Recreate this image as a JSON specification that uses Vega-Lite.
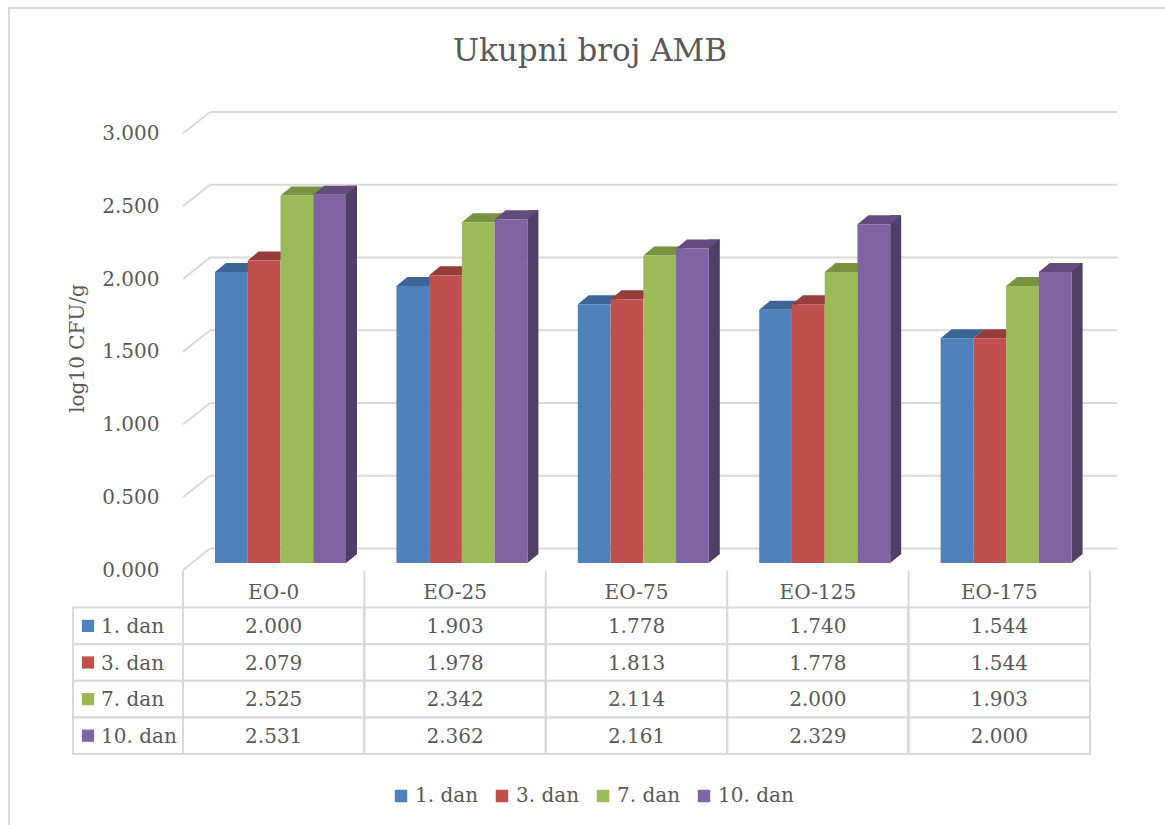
{
  "$schema": "https://vega.github.io/schema/vega-lite/v6.json",
  "width": 1156,
  "height": 817,
  "autosize": {"type": "none"},
  "padding": {"left": 9, "top": 8, "right": 0, "bottom": 0},
  "title": {"text": "Ukupni broj AMB", "font": "DejaVu Serif", "fontSize": 31, "fontWeight": "normal", "color": "#595959", "anchor": "middle", "frame": "group", "offset": -84, "baseline": "alphabetic", "dx": 3},
  "datasets": {
    "amb": [
      {"cat": "EO-0", "series": "1. dan", "value": 2.000},
      {"cat": "EO-0", "series": "3. dan", "value": 2.079},
      {"cat": "EO-0", "series": "7. dan", "value": 2.525},
      {"cat": "EO-0", "series": "10. dan", "value": 2.531},
      {"cat": "EO-25", "series": "1. dan", "value": 1.903},
      {"cat": "EO-25", "series": "3. dan", "value": 1.978},
      {"cat": "EO-25", "series": "7. dan", "value": 2.342},
      {"cat": "EO-25", "series": "10. dan", "value": 2.362},
      {"cat": "EO-75", "series": "1. dan", "value": 1.778},
      {"cat": "EO-75", "series": "3. dan", "value": 1.813},
      {"cat": "EO-75", "series": "7. dan", "value": 2.114},
      {"cat": "EO-75", "series": "10. dan", "value": 2.161},
      {"cat": "EO-125", "series": "1. dan", "value": 1.740},
      {"cat": "EO-125", "series": "3. dan", "value": 1.778},
      {"cat": "EO-125", "series": "7. dan", "value": 2.000},
      {"cat": "EO-125", "series": "10. dan", "value": 2.329},
      {"cat": "EO-175", "series": "1. dan", "value": 1.544},
      {"cat": "EO-175", "series": "3. dan", "value": 1.544},
      {"cat": "EO-175", "series": "7. dan", "value": 1.903},
      {"cat": "EO-175", "series": "10. dan", "value": 2.000}
    ],
    "ticks": [{"v": 0}, {"v": 0.5}, {"v": 1}, {"v": 1.5}, {"v": 2}, {"v": 2.5}, {"v": 3}]
  },
  "config": {
    "font": "DejaVu Serif",
    "view": {"stroke": "#d9d9d9", "strokeWidth": 2, "strokeDash": [1156, 1973, 817, 10]},
    "axis": {"labelColor": "#595959", "labelFontSize": 20, "labelFont": "DejaVu Serif", "titleColor": "#595959", "titleFontSize": 20, "titleFont": "DejaVu Serif", "titleFontWeight": "normal", "domain": false, "ticks": false, "grid": false},
    "text": {"color": "#595959", "fontSize": 20, "font": "DejaVu Serif"},
    "legend": {"labelColor": "#595959", "labelFontSize": 20, "labelFont": "DejaVu Serif"}
  },
  "layer": [
    {
      "layer": [
        {
          "data": {"name": "ticks"},
          "mark": {"type": "rule", "color": "#d9d9d9", "strokeWidth": 2, "xOffset": 27, "x2Offset": 118, "yOffset": -14.5},
          "encoding": {
            "x": {"datum": "EO-0", "type": "nominal", "bandPosition": 0, "scale": {"type": "band", "domain": ["EO-0", "EO-25", "EO-75", "EO-125", "EO-175"], "range": [174, 1081], "paddingInner": 0, "paddingOuter": 0}, "axis": null},
            "x2": {"datum": "EO-175"},
            "y": {"field": "v", "type": "quantitative", "scale": {"domain": [0, 3], "range": [555, 118.5], "nice": false, "zero": false}}
          }
        },
        {
          "data": {"name": "ticks"},
          "mark": {"type": "point", "shape": "M0,7L27,-14.5", "size": 4, "filled": false, "stroke": "#d9d9d9", "strokeWidth": 2, "opacity": 1},
          "encoding": {
            "x": {"datum": "EO-0", "type": "nominal", "bandPosition": 0, "scale": {"type": "band", "domain": ["EO-0", "EO-25", "EO-75", "EO-125", "EO-175"], "range": [174, 1081], "paddingInner": 0, "paddingOuter": 0}, "axis": null},
            "y": {"field": "v", "type": "quantitative", "scale": {"domain": [0, 3], "range": [555, 118.5], "nice": false, "zero": false}}
          }
        },
        {
          "data": {"name": "amb"},
          "transform": [{"filter": "datum.series === '10. dan'"}],
          "mark": {"type": "bar", "color": "#4f3e65", "yOffset": -9, "y2Offset": -9},
          "encoding": {
            "x": {"field": "cat", "type": "nominal", "scale": {"type": "band", "domain": ["EO-0", "EO-25", "EO-75", "EO-125", "EO-175"], "range": [174, 1081], "paddingInner": 0, "paddingOuter": 0}, "axis": null},
            "xOffset": {"field": "series", "type": "nominal", "scale": {"type": "band", "domain": ["1. dan", "3. dan", "7. dan", "10. dan"], "range": [130, 174], "paddingInner": 0, "paddingOuter": 0}},
            "y": {"field": "value", "type": "quantitative", "scale": {"domain": [0, 3], "range": [555, 118.5], "nice": false, "zero": false}},
            "y2": {"datum": 0}
          }
        },
        {
          "data": {"name": "amb"},
          "transform": [{"filter": "datum.series === '10. dan'"}],
          "mark": {"type": "point", "shape": "M16.4,-9L27.4,-9L16.4,0Z", "size": 4, "filled": true, "color": "#4f3e65", "opacity": 1, "strokeWidth": 0},
          "encoding": {
            "x": {"field": "cat", "type": "nominal", "scale": {"type": "band", "domain": ["EO-0", "EO-25", "EO-75", "EO-125", "EO-175"], "range": [174, 1081], "paddingInner": 0, "paddingOuter": 0}, "axis": null},
            "xOffset": {"field": "series", "type": "nominal", "scale": {"type": "band", "domain": ["1. dan", "3. dan", "7. dan", "10. dan"], "range": [32, 163], "paddingInner": 0, "paddingOuter": 0}},
            "y": {"datum": 0, "type": "quantitative", "scale": {"domain": [0, 3], "range": [555, 118.5], "nice": false, "zero": false}}
          }
        },
        {
          "data": {"name": "amb"},
          "mark": {"type": "point", "shape": "M-16.4,0L16.4,0L27.4,-9L-5.4,-9Z", "size": 4, "filled": true, "opacity": 1, "strokeWidth": 0},
          "encoding": {
            "x": {"field": "cat", "type": "nominal", "scale": {"type": "band", "domain": ["EO-0", "EO-25", "EO-75", "EO-125", "EO-175"], "range": [174, 1081], "paddingInner": 0, "paddingOuter": 0}, "axis": null},
            "xOffset": {"field": "series", "type": "nominal", "scale": {"type": "band", "domain": ["1. dan", "3. dan", "7. dan", "10. dan"], "range": [32, 163], "paddingInner": 0, "paddingOuter": 0}},
            "y": {"field": "value", "type": "quantitative", "scale": {"domain": [0, 3], "range": [555, 118.5], "nice": false, "zero": false}},
            "color": {"field": "series", "type": "nominal", "scale": {"domain": ["1. dan", "3. dan", "7. dan", "10. dan"], "range": ["#3c6595", "#963d3b", "#789340", "#624c7e"]}, "legend": null}
          }
        },
        {
          "data": {"name": "amb"},
          "mark": {"type": "bar"},
          "encoding": {
            "x": {"field": "cat", "type": "nominal", "scale": {"type": "band", "domain": ["EO-0", "EO-25", "EO-75", "EO-125", "EO-175"], "range": [174, 1081], "paddingInner": 0, "paddingOuter": 0}, "axis": null},
            "xOffset": {"field": "series", "type": "nominal", "scale": {"type": "band", "domain": ["1. dan", "3. dan", "7. dan", "10. dan"], "range": [32, 163], "paddingInner": 0, "paddingOuter": 0}},
            "y": {"field": "value", "type": "quantitative", "scale": {"domain": [0, 3], "range": [555, 118.5], "nice": false, "zero": false},
              "axis": {"orient": "left", "offset": -174, "values": [0, 0.5, 1, 1.5, 2, 2.5, 3], "format": ".3f", "labelPadding": 24, "labelOffset": 7, "title": "log10 CFU/g", "titleX": -100, "titleY": 340, "titleAngle": -90, "titleAlign": "center", "titleBaseline": "alphabetic"}},
            "color": {"field": "series", "type": "nominal", "scale": {"domain": ["1. dan", "3. dan", "7. dan", "10. dan"], "range": ["#4f81bd", "#c0504d", "#9bbb59", "#8064a2"]},
              "legend": {"orient": "none", "legendX": 382, "legendY": 778, "direction": "horizontal", "title": null, "symbolType": "square", "symbolSize": 156, "symbolStrokeWidth": 0, "columnPadding": 13, "labelOffset": 4}}
          }
        }
      ],
      "resolve": {"scale": {"xOffset": "independent", "color": "independent"}}
    },
    {
      "data": {"name": "amb"},
      "layer": [
        {
          "mark": {"type": "rect", "fill": "white", "stroke": "#d9d9d9", "strokeWidth": 2},
          "encoding": {
            "x": {"field": "cat", "type": "nominal", "scale": {"type": "band", "domain": ["EO-0", "EO-25", "EO-75", "EO-125", "EO-175"], "range": [174, 1081], "paddingInner": 0, "paddingOuter": 0}, "axis": null},
            "y": {"field": "series", "type": "nominal", "scale": {"type": "band", "domain": ["hdr", "1. dan", "3. dan", "7. dan", "10. dan"], "range": [563, 746], "paddingInner": 0, "paddingOuter": 0}, "axis": null}
          }
        },
        {
          "transform": [{"filter": "datum.series === '1. dan'"}],
          "mark": {"type": "rule", "color": "#d9d9d9", "strokeWidth": 2, "yOffset": -18.3, "y2Offset": 18.3},
          "encoding": {
            "x": {"field": "cat", "type": "nominal", "bandPosition": 0},
            "y": {"datum": "hdr", "type": "nominal"},
            "y2": {"datum": "10. dan"}
          }
        },
        {
          "transform": [{"filter": "datum.series === '1. dan' && datum.cat === 'EO-175'"}],
          "mark": {"type": "rule", "color": "#d9d9d9", "strokeWidth": 2, "yOffset": -18.3, "y2Offset": 18.3},
          "encoding": {
            "x": {"field": "cat", "type": "nominal", "bandPosition": 1},
            "y": {"datum": "hdr", "type": "nominal"},
            "y2": {"datum": "10. dan"}
          }
        },
        {
          "mark": {"type": "text", "baseline": "middle", "dy": 1},
          "encoding": {
            "x": {"field": "cat", "type": "nominal"},
            "y": {"field": "series", "type": "nominal"},
            "text": {"field": "value", "type": "quantitative", "format": ".3f"}
          }
        },
        {
          "transform": [{"filter": "datum.series === '1. dan'"}],
          "mark": {"type": "text", "baseline": "middle", "dy": 4},
          "encoding": {
            "x": {"field": "cat", "type": "nominal"},
            "y": {"datum": "hdr", "type": "nominal"},
            "text": {"field": "cat", "type": "nominal"}
          }
        }
      ]
    },
    {
      "data": {"name": "amb"},
      "transform": [{"filter": "datum.cat === 'EO-0'"}],
      "layer": [
        {
          "mark": {"type": "rect", "fill": "white", "stroke": "#d9d9d9", "strokeWidth": 2},
          "encoding": {
            "x": {"datum": "legend", "type": "nominal", "scale": {"type": "band", "domain": ["legend"], "range": [64, 174], "paddingInner": 0, "paddingOuter": 0}, "axis": null},
            "y": {"field": "series", "type": "nominal", "scale": {"type": "band", "domain": ["hdr", "1. dan", "3. dan", "7. dan", "10. dan"], "range": [563, 746], "paddingInner": 0, "paddingOuter": 0}, "axis": null}
          }
        },
        {
          "mark": {"type": "point", "shape": "square", "size": 150, "filled": true, "opacity": 1, "xOffset": -40, "strokeWidth": 0},
          "encoding": {
            "x": {"datum": "legend", "type": "nominal"},
            "y": {"field": "series", "type": "nominal"},
            "color": {"field": "series", "type": "nominal", "scale": {"domain": ["1. dan", "3. dan", "7. dan", "10. dan"], "range": ["#4f81bd", "#c0504d", "#9bbb59", "#8064a2"]}, "legend": null}
          }
        },
        {
          "mark": {"type": "text", "align": "left", "baseline": "middle", "dx": -27, "dy": 1},
          "encoding": {
            "x": {"datum": "legend", "type": "nominal"},
            "y": {"field": "series", "type": "nominal"},
            "text": {"field": "series", "type": "nominal"}
          }
        }
      ]
    }
  ],
  "resolve": {"scale": {"x": "independent", "y": "independent", "color": "independent"}}
}
